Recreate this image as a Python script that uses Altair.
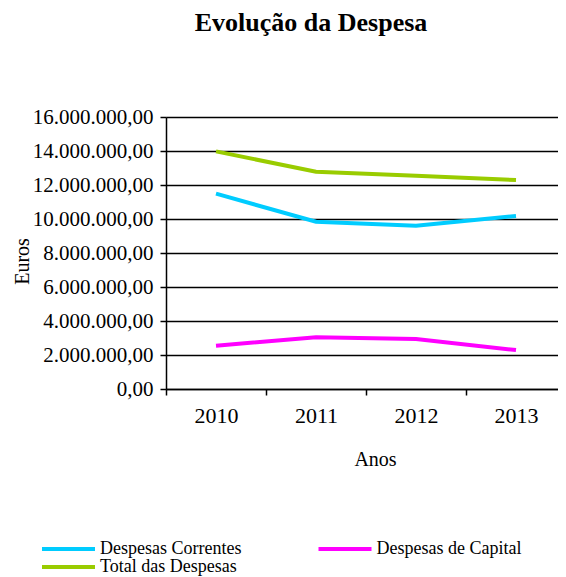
import altair as alt
import pandas as pd

anos = ["2010", "2011", "2012", "2013"]
correntes = [11490000, 9840000, 9610000, 10180000]
capital = [2550000, 3040000, 2940000, 2290000]
total = [13980000, 12780000, 12550000, 12290000]
series = ["Despesas Correntes", "Despesas de Capital", "Total das Despesas"]
colors = ["#00CCFF", "#FF00FF", "#99CC00"]
# legend is laid out column by column: Correntes / Total in col 1, Capital in col 2
legend_order = ["Despesas Correntes", "Total das Despesas", "Despesas de Capital"]
legend_colors = ["#00CCFF", "#99CC00", "#FF00FF"]
y_ticks = [0, 2000000, 4000000, 6000000, 8000000, 10000000, 12000000, 14000000, 16000000]

rows = []
for s, vals in zip(series, [correntes, capital, total]):
    for a, v in zip(anos, vals):
        rows.append({"Ano": a, "Serie": s, "Valor": v})
df = pd.DataFrame(rows)

FONT = "Liberation Serif"


def build(width, pad_right):
    return alt.Chart(df).mark_line(strokeWidth=4).encode(
        x=alt.X(
            "Ano:O",
            bandPosition=0.5,
            scale=alt.Scale(type="band", paddingInner=0, paddingOuter=0),
            axis=alt.Axis(
                title="Anos", labelAngle=0, labelFontSize=22, labelFont=FONT,
                labelColor="black", labelPadding=10, tickBand="extent", tickSize=6,
                tickColor="black", tickWidth=1.5, domainColor="black", domainWidth=1.5,
                titleFontSize=20, titleFont=FONT, titleFontWeight="normal", titleColor="black",
                titleX=209, titleY=70, titleBaseline="middle", titleAnchor="middle",
                grid=False,
            ),
        ),
        y=alt.Y(
            "Valor:Q",
            scale=alt.Scale(domain=[0, 16000000], nice=False),
            axis=alt.Axis(
                title="Euros", values=y_ticks,
                labelExpr="replace(format(datum.value, ',.0f'), regexp(',', 'g'), '.') + ',00'",
                labelFontSize=21, labelFont=FONT, labelColor="black", labelPadding=7,
                tickSize=6, tickColor="black", tickWidth=1.5, domainColor="black", domainWidth=1.5,
                grid=True, gridColor="black", gridWidth=1.5,
                titleFontSize=20, titleFont=FONT, titleFontWeight="normal", titleColor="black",
                titleX=-144, titleY=144, titleBaseline="middle", titleAngle=-90,
            ),
        ),
        color=alt.Color(
            "Serie:N",
            sort=legend_order,
            scale=alt.Scale(domain=legend_order, range=legend_colors),
            legend=alt.Legend(
                title=None, orient="none", legendX=-106.5, legendY=423, columns=2,
                symbolType="M-5.3,0L5.3,0", symbolSize=100, symbolStrokeWidth=4,
                labelFontSize=18, labelFont=FONT, labelColor="black", labelOffset=22.5,
                columnPadding=68.5, rowPadding=-1,
            ),
        ),
    ).properties(
        width=width,
        height=272,
        title=alt.TitleParams(
            text="Evolução da Despesa", font=FONT, fontSize=26, fontWeight="bold",
            color="black", anchor="middle", dx=-55, offset=70,
        ),
        autosize=alt.AutoSizeParams(type="none"),
        padding={"left": 158, "top": 109, "right": pad_right, "bottom": 188},
    ).configure_view(stroke=None).configure(font=FONT)


try:
    chart = build(400, -8)
    chart.to_dict()
except Exception:
    chart = build(392, 0)

chart.save("out.html", embed_options={"renderer": "svg", "actions": False})
